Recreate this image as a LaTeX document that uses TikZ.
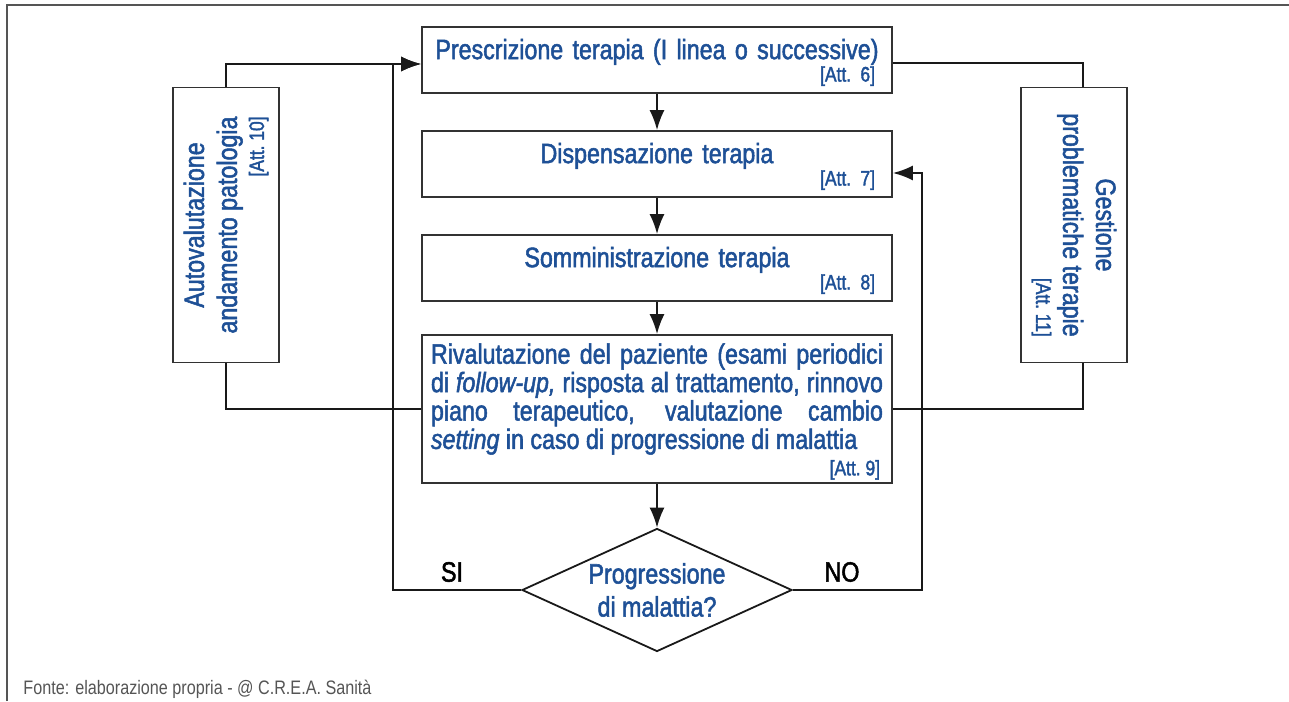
\documentclass[tikz,border=0pt]{standalone}
\usepackage{fontspec}
\setmainfont{Liberation Sans}[FakeStretch=0.83, FakeBold=1.8]
\newfontfamily\fontefont{Liberation Sans}[FakeStretch=0.83]
\usetikzlibrary{arrows.meta,shapes.geometric}
\definecolor{testo}{RGB}{30,80,150}
\definecolor{bordo}{RGB}{50,50,50}
\definecolor{cornice}{RGB}{85,85,85}
\newcommand{\attfont}{\fontsize{10.5}{12}\selectfont}

\begin{document}
\begin{tikzpicture}[x=0.5pt, y=-0.5pt, >={Latex[length=10pt,width=7.5pt]},
  linea/.style={line width=0.9pt, black!90},
  blocco/.style={draw=bordo, line width=0.9pt, text=testo, minimum width=235pt,
    minimum height=33pt, text width=226pt, inner xsep=4.5pt, inner ysep=0pt,
    align=center, font=\fontsize{14}{14.2}\selectfont},
  laterale/.style={draw=bordo, line width=0.9pt, minimum width=53pt, minimum height=137.5pt},
  testolat/.style={text=testo, align=center, inner sep=0pt, font=\fontsize{14}{16.5}\selectfont},
  rombo/.style={diamond, draw=black!90, line width=0.9pt, aspect=2.2, inner sep=0pt,
    minimum width=135pt, minimum height=61.5pt, text=testo, align=center,
    font=\fontsize{14}{16.5}\selectfont},
  etichetta/.style={font=\fontsize{14}{16}\selectfont, inner sep=0pt}]
\useasboundingbox (0,0) rectangle (1289,701);
% Cornice
\draw[cornice, line width=0.8pt] (7,701) -- (7,5) -- (1289,5);
% Blocchi centrali
\node[blocco] (box1) at (657,60) {\rule{0pt}{12.5pt}Prescrizione terapia (I linea o successive)\\[-3pt] {\attfont\hspace*{\fill}[Att.~6]\kern4pt}};
\node[blocco] (box2) at (657,164) {\rule{0pt}{12.5pt}Dispensazione terapia\\[-3pt] {\attfont\hspace*{\fill}[Att.~7]\kern4pt}};
\node[blocco] (box3) at (657,268) {\rule{0pt}{12.5pt}Somministrazione terapia\\[-3pt] {\attfont\hspace*{\fill}[Att.~8]\kern4pt}};
\node[blocco, align=justify, minimum height=74pt] (box4) at (657,409) {\rule{0pt}{14pt}Rivalutazione del paziente (esami periodici\linebreak
  di \textit{follow-up,} risposta al trattamento, rinnovo\linebreak
  piano terapeutico, valutazione cambio\linebreak
  \textit{setting} in caso di progressione di malattia\\[-1pt] {\attfont\hspace*{\fill}[Att.~9]\rule[-3.5pt]{0pt}{0pt}\kern1.5pt}};
% Decisione
\node[rombo] (dia) at (657,590) {Progressione\\di malattia?};
\node[etichetta] (si) at (452,572) {SI};
\node[etichetta] (no) at (842,572) {NO};
% Blocchi laterali
\node[laterale] (lbox) at (226,225) {};
\node[testolat, rotate=90] (ltext) at (lbox) {Autovalutazione\\andamento patologia\\[-3pt] {\attfont\hspace*{\fill}[Att.~10]}};
\node[laterale] (rbox) at (1074,225) {};
\node[testolat, rotate=-90] (rtext) at (rbox) {Gestione\\problematiche terapie\\[-3pt] {\attfont\hspace*{\fill}[Att.~11]}};
% Punti di attacco
\coordinate (in1) at ([yshift=-2pt]box1.west);
\coordinate (out1) at ([yshift=-1.5pt]box1.east);
\coordinate (in2) at ([yshift=-4.5pt]box2.east);
% Frecce centrali
\draw[linea,->] (box1) -- (box2);
\draw[linea,->] (box2) -- (box3);
\draw[linea,->] (box3) -- (box4);
\draw[linea,->] (box4) -- (dia);
% Ciclo sinistro
\draw[linea] (box4.west) -| (lbox.south);
\draw[linea,->] (lbox.north) |- (in1);
\draw[linea,->] (dia.west) -- ++(-128,0) |- (in1);
% Ciclo destro
\draw[linea] (out1) -| ([xshift=4.5pt]rbox.north);
\draw[linea] ([xshift=4.5pt]rbox.south) |- (box4.east);
\draw[linea,->] (dia.east) -- ++(129,0) |- (in2);
% Fonte
\node[anchor=base west, text=cornice, inner sep=0pt, font=\fontefont\fontsize{9.75}{11}\selectfont] (fonte) at (23,694) {Fonte: elaborazione propria - @ C.R.E.A. Sanità};
\end{tikzpicture}
\end{document}
